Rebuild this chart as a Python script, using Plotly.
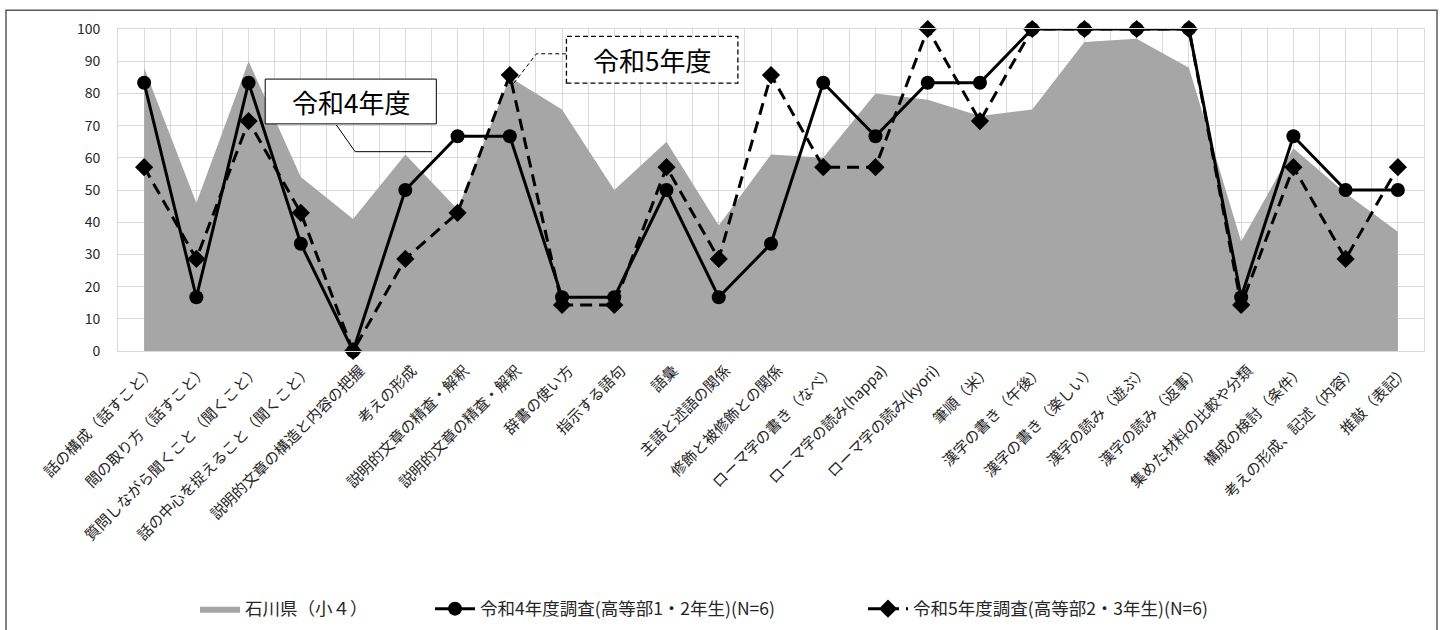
import plotly.graph_objects as go

categories = [
    "話の構成（話すこと）", "間の取り方（話すこと）", "質問しながら聞くこと（聞くこと）",
    "話の中心を捉えること（聞くこと）", "説明的文章の構造と内容の把握", "考えの形成",
    "説明的文章の精査・解釈", "説明的文章の精査・解釈", "辞書の使い方", "指示する語句",
    "語彙", "主語と述語の関係", "修飾と被修飾との関係", "ローマ字の書き（なべ）",
    "ローマ字の読み(happa)", "ローマ字の読み(kyori)", "筆順（米）", "漢字の書き（午後）",
    "漢字の書き（楽しい）", "漢字の読み（遊ぶ）", "漢字の読み（返事）", "集めた材料の比較や分類",
    "構成の検討（条件）", "考えの形成、記述（内容）", "推敲（表記）",
]
ishikawa = [88, 46, 90, 54, 41, 61, 44, 85, 75, 50, 65, 39, 61, 60, 80, 78, 73, 75, 96, 97, 88, 34, 63, 49, 37]
r4 = [83.3, 16.7, 83.3, 33.3, 0, 50, 66.7, 66.7, 16.7, 16.7, 50, 16.7, 33.3, 83.3, 66.7,
      83.3, 83.3, 100, 100, 100, 100, 16.7, 66.7, 50, 50]
r5 = [57.1, 28.6, 71.4, 42.9, 0, 28.6, 42.9, 85.7, 14.3, 14.3, 57.1, 28.6, 85.7, 57.1, 57.1,
      100, 71.4, 100, 100, 100, 100, 14.3, 57.1, 28.6, 57.1]
series_names = ["石川県（小４）", "令和4年度調査(高等部1・2年生)(N=6)", "令和5年度調査(高等部2・3年生)(N=6)"]
y_ticks = list(range(0, 101, 10))

x = list(range(len(categories)))
FONT = "Noto Sans CJK JP, Noto Sans, sans-serif"

fig = go.Figure()
fig.add_trace(go.Scatter(
    x=x, y=ishikawa, name=series_names[0], mode="lines", fill="tozeroy",
    fillcolor="#a6a6a6", line=dict(color="#a6a6a6", width=0), legend="legend",
))
fig.add_trace(go.Scatter(
    x=x, y=r5, name=series_names[2], mode="lines+markers", cliponaxis=False,
    line=dict(color="black", width=3, dash="12px,7px"),
    marker=dict(symbol="diamond", size=14, color="black"), legend="legend3",
))
fig.add_trace(go.Scatter(
    x=x, y=r4, name=series_names[1], mode="lines+markers", cliponaxis=False,
    line=dict(color="black", width=3),
    marker=dict(symbol="circle", size=14, color="black"), legend="legend2",
))

shapes = [
    # outer chart border
    dict(type="rect", xref="paper", yref="paper",
         x0=(6 - 118) / 1306, x1=(1437 - 118) / 1306,
         y0=-(640 - 350.7) / 321.4, y1=1 + (29.3 - 10.5) / 321.4,
         line=dict(color="#595959", width=1.5), layer="below"),
    # 令和4年度 box and leader
    dict(type="path", xref="x", yref="y",
         path="M 3.68 70.2 L 4.04 61.9 L 5.51 61.9", line=dict(color="black", width=1)),
    dict(type="rect", xref="x", yref="y", x0=(265 - 144) / 52.2, x1=(436 - 144) / 52.2,
         y0=(350.7 - 124) / 3.214, y1=(350.7 - 79.3) / 3.214,
         line=dict(color="black", width=1), fillcolor="white"),
    # 令和5年度 box and leader
    dict(type="path", xref="x", yref="y",
         path="M 8.08 92.3 L 7.51 92.3 L 7.05 82.6",
         line=dict(color="black", width=1, dash="4px,3px")),
    dict(type="rect", xref="x", yref="y", x0=(566 - 144) / 52.2, x1=(737.3 - 144) / 52.2,
         y0=(350.7 - 83.3) / 3.214, y1=(350.7 - 36.7) / 3.214,
         line=dict(color="black", width=1.3, dash="5px,3px"), fillcolor="white"),
]

annotations = [
    dict(x=(350.5 - 144) / 52.2, y=(350.7 - 101.7) / 3.214, xref="x", yref="y",
         text="令和4年度", showarrow=False, font=dict(family=FONT, size=26, color="black")),
    dict(x=(651.7 - 144) / 52.2, y=(350.7 - 60) / 3.214, xref="x", yref="y",
         text="令和5年度", showarrow=False, font=dict(family=FONT, size=26, color="black")),
]

LEG_Y = -(608 - 350.7) / 321.4
def leg(px):
    return dict(orientation="h", x=(px - 118) / 1306, xanchor="left", y=LEG_Y, yanchor="middle",
                font=dict(family=FONT, size=17.5, color="#262626"),
                bgcolor="rgba(0,0,0,0)", itemwidth=40)

fig.update_layout(
    width=1441, height=630,
    margin=dict(l=118, r=17, t=29, b=279, autoexpand=False),
    paper_bgcolor="white", plot_bgcolor="white",
    font=dict(family=FONT, color="#262626"),
    shapes=shapes, annotations=annotations,
    showlegend=True,
    legend=leg(195), legend2=leg(430), legend3=leg(863),
)
fig.update_xaxes(
    range=[-0.5, len(categories) - 0.5], tickmode="array", tickvals=x, ticktext=categories,
    tickangle=-45, tickfont=dict(family=FONT, size=15, color="#262626"),
    ticklabelshift=7, ticklabelstandoff=4,
    showgrid=True, gridcolor="#d9d9d9", gridwidth=1,
    minor=dict(tickmode="linear", tick0=-0.5, dtick=1, showgrid=True, gridcolor="#d9d9d9", gridwidth=1),
    showline=True, linecolor="#d9d9d9", linewidth=1, mirror=True, zeroline=False, ticks="",
)
fig.update_yaxes(
    range=[0, 100], tickmode="array", tickvals=y_ticks,
    tickfont=dict(family=FONT, size=14, color="#262626"),
    showgrid=True, gridcolor="#d9d9d9", gridwidth=1, zeroline=False,
    showline=True, linecolor="#d9d9d9", mirror=True, ticks="", ticklabelstandoff=14,
)

fig.write_html("out.html")
